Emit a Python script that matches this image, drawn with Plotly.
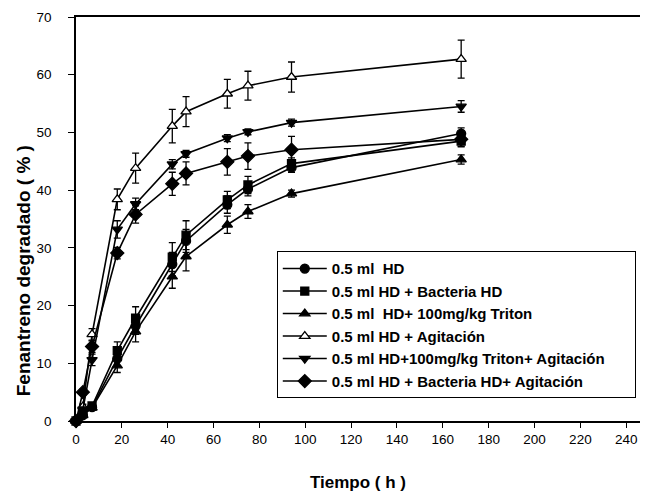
import plotly.graph_objects as go

# Sampling times (h)
tiempo = [0, 3, 7, 18, 26, 42, 48, 66, 75, 94, 168]

# Degraded phenanthrene (%) per treatment, with standard deviation
hd = [0, 1.0, 2.4, 10.8, 16.5, 27.2, 31.2, 37.5, 40.2, 43.9, 49.8]
hd_err = [0, 0.3, 0.4, 1.2, 1.5, 2.0, 2.0, 1.5, 1.2, 0.8, 1.0]

bact = [0, 1.4, 2.6, 12.2, 17.8, 28.4, 32.2, 38.3, 40.9, 44.6, 48.5]
bact_err = [0, 0.3, 0.4, 1.5, 2.0, 2.5, 2.5, 1.5, 1.5, 1.0, 1.0]

triton = [0, 1.0, 2.3, 9.6, 15.5, 25.0, 28.5, 34.0, 36.3, 39.4, 45.3]
triton_err = [0, 0.3, 0.4, 1.2, 1.8, 2.0, 2.5, 1.5, 1.2, 0.6, 0.8]

agit = [0, 2.5, 15.0, 38.4, 43.8, 51.1, 53.6, 56.7, 58.1, 59.6, 62.7]
agit_err = [0, 0.4, 1.0, 1.8, 2.6, 2.9, 2.6, 2.5, 2.5, 2.6, 3.3]

triton_agit = [0, 2.0, 10.6, 33.2, 37.6, 44.5, 46.3, 49.0, 50.1, 51.7, 54.5]
triton_agit_err = [0, 0.4, 1.0, 1.5, 1.0, 0.8, 0.6, 0.6, 0.5, 0.6, 1.0]

bact_agit = [0, 5.0, 12.9, 29.1, 35.8, 41.1, 42.9, 44.9, 45.9, 47.0, 48.8]
bact_agit_err = [0, 0.5, 1.0, 1.0, 1.5, 2.0, 2.0, 2.3, 2.3, 2.3, 1.2]

series = [
    ("0.5 ml  HD", hd, hd_err, "circle", "black", 9),
    ("0.5 ml HD + Bacteria HD", bact, bact_err, "square", "black", 8),
    ("0.5 ml  HD+ 100mg/kg Triton", triton, triton_err, "triangle-up", "black", 9),
    ("0.5 ml HD + Agitación", agit, agit_err, "triangle-up", "white", 9),
    ("0.5 ml HD+100mg/kg Triton+ Agitación", triton_agit, triton_agit_err, "triangle-down", "black", 9),
    ("0.5 ml HD + Bacteria HD+ Agitación", bact_agit, bact_agit_err, "diamond", "black", 10),
]

FONT = "Liberation Sans, Arial, sans-serif"
PAD = "\u00a0" * 6  # right-hand padding inside the legend box

fig = go.Figure()
for name, y, err, sym, fill, size in series:
    fig.add_trace(go.Scatter(
        x=tiempo, y=y, name=name + PAD, mode="lines+markers",
        line=dict(color="black", width=1.6),
        marker=dict(symbol=sym, size=size, color=fill,
                    line=dict(color="black", width=1.3)),
        error_y=dict(type="data", array=err, visible=True,
                     color="black", thickness=1.3, width=3.5),
        cliponaxis=False,
    ))

# Vertical axis title, placed as free text
fig.add_annotation(
    text="<b>Fenantreno degradado ( % )</b>",
    xref="paper", yref="paper", x=-0.094, y=0.373,
    xanchor="center", yanchor="middle", textangle=-90, showarrow=False,
    font=dict(size=19, family=FONT, color="black"),
)

fig.update_layout(
    width=645, height=498,
    margin=dict(l=76, r=5, t=17, b=77),
    paper_bgcolor="white", plot_bgcolor="white",
    font=dict(family=FONT, color="black", size=13.5),
    showlegend=True,
    legend=dict(
        x=0.356, y=0.42, xanchor="left", yanchor="top",
        bgcolor="white", bordercolor="black", borderwidth=1,
        font=dict(size=15, family=FONT, weight="bold"),
        tracegroupgap=0, itemwidth=44,
    ),
    xaxis=dict(
        range=[0, 246], tickvals=list(range(0, 241, 20)),
        showline=True, linecolor="black", linewidth=1.5, mirror=True,
        ticks="outside", ticklen=5, tickcolor="black",
        showgrid=False, zeroline=False,
        title=dict(text="<b>Tiempo ( h )</b>", font=dict(size=17), standoff=30),
    ),
    yaxis=dict(
        range=[0, 70], tickvals=list(range(0, 71, 10)),
        showline=True, linecolor="black", linewidth=1.5,
        ticks="outside", ticklen=6, tickcolor="black", ticklabelstandoff=14,
        showgrid=False, zeroline=False,
    ),
)

fig.write_html("out.html")
